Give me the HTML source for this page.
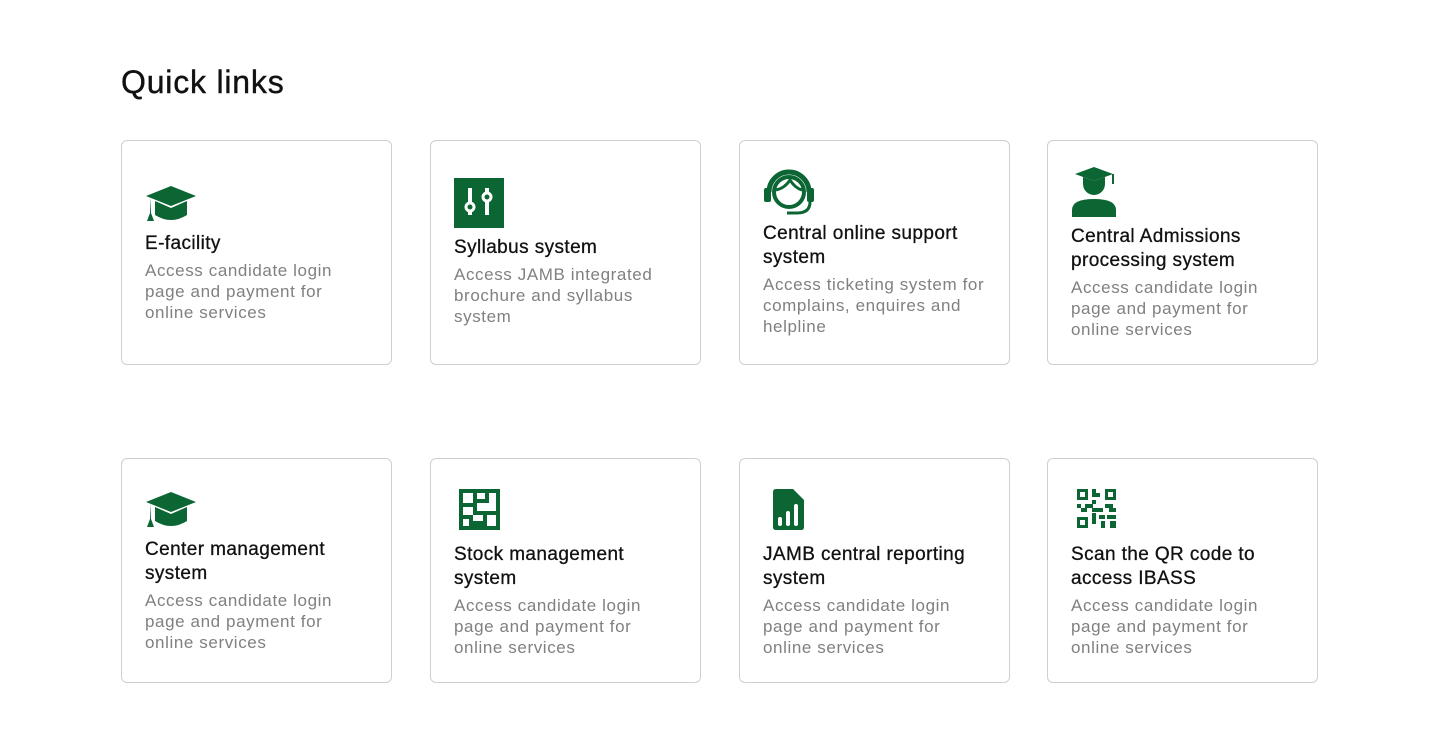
<!DOCTYPE html>
<html><head><style>
body{margin:0;width:1440px;height:733px;background:#fff;font-family:"Liberation Sans",sans-serif;position:relative;overflow:hidden}
h1{position:absolute;left:121px;top:62px;margin:0;font-size:32px;font-weight:400;color:#111;line-height:40px;letter-spacing:0.8px;-webkit-text-stroke:0.4px #111}
.card{position:absolute;width:271px;height:225px;border:1px solid #cfcfcf;border-radius:6px;box-sizing:border-box}
.ic{position:absolute;left:23px}
.t{position:absolute;left:23px;font-size:19px;line-height:24px;color:#111;white-space:nowrap;letter-spacing:0.4px;-webkit-text-stroke:0.3px #111}
.d{position:absolute;left:23px;font-size:17px;line-height:21px;color:#808080;white-space:nowrap;letter-spacing:0.6px}
</style></head><body>
<h1>Quick links</h1>

<div class="card" style="left:121px;top:140px">
<svg class="ic" style="top:44px" width="52" height="38" viewBox="0 0 52 38"><path d="M26 1L51 11L26 21L1 11Z" fill="#0b6633"/><path d="M10 16V30Q26 40 42 30V16L26 23Z" fill="#0b6633"/><path d="M5 12V28L2 36H9L6 28" fill="#0b6633"/></svg>
<div class="t" style="top:91px">E-facility</div>
<div class="d" style="top:119px">Access candidate login<br>page and payment for<br>online services</div></div>

<div class="card" style="left:430px;top:140px">
<svg class="ic" style="top:37px" width="50" height="50"><rect width="50" height="50" fill="#0b6633"/><path d="M16 10V37M33 10V37" stroke="#fff" stroke-width="4"/><circle cx="16" cy="29" r="4" fill="#0b6633" stroke="#fff" stroke-width="3"/><circle cx="33" cy="19" r="4" fill="#0b6633" stroke="#fff" stroke-width="3"/></svg>
<div class="t" style="top:95px">Syllabus system</div>
<div class="d" style="top:123px">Access JAMB integrated<br>brochure and syllabus<br>system</div></div>

<div class="card" style="left:739px;top:140px">
<svg class="ic" style="top:27px" width="52" height="48" viewBox="0 0 52 48"><path d="M6 24A20 20 0 0 1 46 24" fill="none" stroke="#0b6633" stroke-width="5"/><circle cx="26" cy="24" r="15" fill="none" stroke="#0b6633" stroke-width="4"/><path d="M13 22Q22 20 27 12Q32 20 39 22" fill="none" stroke="#0b6633" stroke-width="3"/><rect x="1" y="20" width="7" height="14" rx="2" fill="#0b6633"/><rect x="44" y="20" width="7" height="14" rx="2" fill="#0b6633"/><path d="M47 34Q47 45 34 45H24" fill="none" stroke="#0b6633" stroke-width="3"/></svg>
<div class="t" style="top:81px">Central online support<br>system</div>
<div class="d" style="top:133px">Access ticketing system for<br>complains, enquires and<br>helpline</div></div>

<div class="card" style="left:1047px;top:140px">
<svg class="ic" style="top:25px" width="46" height="52" viewBox="0 0 46 52"><path d="M23 1L42 8L23 15L4 8Z" fill="#0b6633"/><path d="M12 11V18A11 11 0 0 0 34 18V11L23 15Z" fill="#0b6633"/><path d="M42 8V18" stroke="#0b6633" stroke-width="2"/><path d="M1 51V44Q1 33 23 33Q45 33 45 44V51Z" fill="#0b6633"/></svg>
<div class="t" style="top:84px">Central Admissions<br>processing system</div>
<div class="d" style="top:136px">Access candidate login<br>page and payment for<br>online services</div></div>

<div class="card" style="left:121px;top:458px">
<svg class="ic" style="top:32px" width="52" height="38" viewBox="0 0 52 38"><path d="M26 1L51 11L26 21L1 11Z" fill="#0b6633"/><path d="M10 16V30Q26 40 42 30V16L26 23Z" fill="#0b6633"/><path d="M5 12V28L2 36H9L6 28" fill="#0b6633"/></svg>
<div class="t" style="top:79px">Center management<br>system</div>
<div class="d" style="top:131px">Access candidate login<br>page and payment for<br>online services</div></div>

<div class="card" style="left:430px;top:458px">
<svg class="ic" style="top:30px;left:28px" width="41" height="41" viewBox="0 0 41 41"><rect width="41" height="41" fill="#0b6633"/><rect x="4" y="4" width="10" height="10" fill="#fff"/><rect x="18" y="4" width="8" height="6" fill="#fff"/><rect x="30" y="4" width="7" height="10" fill="#fff"/><rect x="18" y="14" width="19" height="8" fill="#fff"/><rect x="4" y="18" width="10" height="8" fill="#fff"/><rect x="14" y="26" width="10" height="6" fill="#fff"/><rect x="28" y="26" width="9" height="11" fill="#fff"/><rect x="4" y="30" width="6" height="7" fill="#fff"/></svg>
<div class="t" style="top:84px">Stock management<br>system</div>
<div class="d" style="top:136px">Access candidate login<br>page and payment for<br>online services</div></div>

<div class="card" style="left:739px;top:458px">
<svg class="ic" style="top:30px;left:33px" width="31" height="41" viewBox="0 0 31 41"><path d="M3 0H20L31 11V38Q31 41 28 41H3Q0 41 0 38V3Q0 0 3 0Z" fill="#0b6633"/><rect x="5" y="28" width="4" height="9" rx="2" fill="#fff"/><rect x="13" y="22" width="4" height="15" rx="2" fill="#fff"/><rect x="21" y="15" width="4" height="22" rx="2" fill="#fff"/></svg>
<div class="t" style="top:84px">JAMB central reporting<br>system</div>
<div class="d" style="top:136px">Access candidate login<br>page and payment for<br>online services</div></div>

<div class="card" style="left:1047px;top:458px">
<svg class="ic" style="top:30px;left:29px" width="39" height="39" viewBox="0 0 39 39" fill="#0b6633"><path d="M0 0h11v11H0zM3 3v5h5V3z"/><path d="M28 0h11v11H28zM31 3v5h5V3z"/><path d="M0 28h11v11H0zM3 31v5h5v-5z"/><rect x="15" y="0" width="4" height="4"/><rect x="15" y="4" width="8" height="4"/><rect x="15" y="11" width="4" height="4"/><rect x="0" y="15" width="4" height="4"/><rect x="8" y="15" width="8" height="4"/><rect x="4" y="19" width="6" height="4"/><rect x="15" y="19" width="11" height="4"/><rect x="28" y="15" width="8" height="4"/><rect x="32" y="19" width="7" height="4"/><rect x="15" y="24" width="4" height="11"/><rect x="22" y="26" width="6" height="4"/><rect x="30" y="26" width="9" height="4"/><rect x="24" y="32" width="4" height="7"/><rect x="33" y="32" width="6" height="7"/></svg>
<div class="t" style="top:84px">Scan the QR code to<br>access IBASS</div>
<div class="d" style="top:136px">Access candidate login<br>page and payment for<br>online services</div></div>
</body></html>
